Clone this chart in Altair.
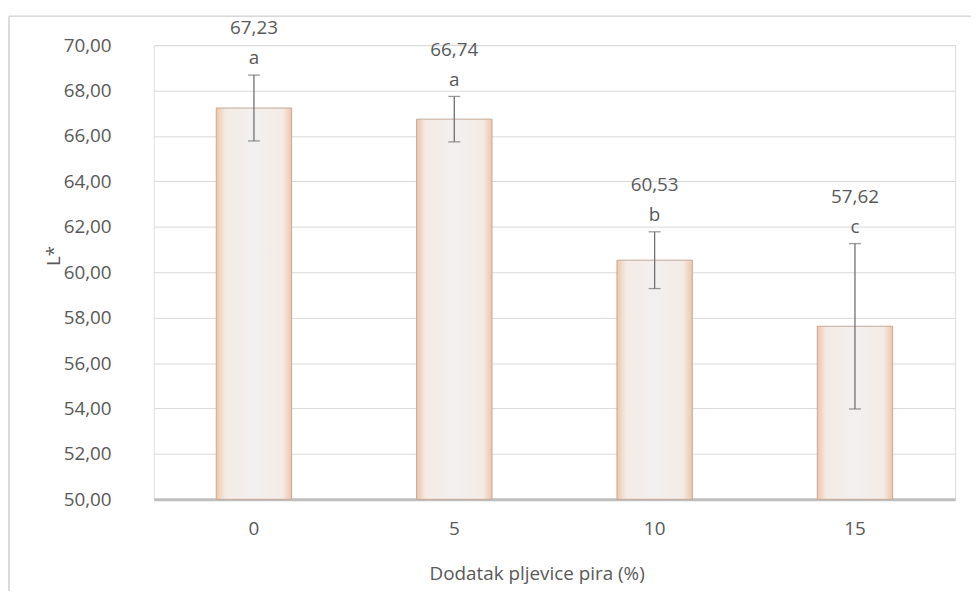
import altair as alt
import pandas as pd

categories = ["0", "5", "10", "15"]
means = [67.23, 66.74, 60.53, 57.62]
sd = [1.45, 1.00, 1.25, 3.64]
letters = ["a", "a", "b", "c"]
y_ticks = [50, 52, 54, 56, 58, 60, 62, 64, 66, 68, 70]

df = pd.DataFrame({
    "cat": categories,
    "mean": means,
    "lo": [m - s for m, s in zip(means, sd)],
    "hi": [m + s for m, s in zip(means, sd)],
    "letter": letters,
    "label": [f"{m:.2f}".replace(".", ",") for m in means],
})

FONT = "Open Sans"
TXT = "#595959"
FS = 19

x = alt.X("cat:N", sort=categories, title="Dodatak pljevice pira (%)",
          scale=alt.Scale(paddingInner=0.624, paddingOuter=0.312),
          axis=alt.Axis(labelAngle=0, ticks=False, domain=True, domainColor="#bfbfbf",
                        domainWidth=3, labelPadding=20,
                        titleX=386, titleY=81, titleBaseline="alphabetic", titleAlign="center",
                        labelFontSize=FS, titleFontSize=FS, labelColor=TXT, titleColor=TXT,
                        labelFont=FONT, titleFont=FONT, titleFontWeight="normal"))

y_scale = alt.Scale(domain=[50, 70], nice=False, zero=False)

frame = alt.Chart(df).mark_rect(fill=None, stroke="#d9d9d9", strokeWidth=1).encode(
    x=alt.value(-146), x2=alt.value(1000), y=alt.value(-29), y2=alt.value(800))

bars = alt.Chart(df).mark_bar(
    stroke="#c4a896", strokeWidth=1,
    color=alt.Gradient(gradient="linear", x1=0, x2=1, y1=0, y2=0,
                       stops=[alt.GradientStop(color="#efc6a8", offset=0),
                              alt.GradientStop(color="#f4ebe5", offset=0.12),
                              alt.GradientStop(color="#f2f0ef", offset=0.5),
                              alt.GradientStop(color="#f4ebe5", offset=0.88),
                              alt.GradientStop(color="#efc6a8", offset=1)]),
).encode(
    x=x,
    y=alt.Y("mean:Q", scale=y_scale, title="L*",
            axis=alt.Axis(values=y_ticks, labelExpr="replace(format(datum.value, '.2f'), '.', ',')",
                          grid=True, gridColor="#d9d9d9", gridWidth=1, domain=False, ticks=False,
                          labelPadding=43, titleX=-95, titleY=212, titleAngle=270,
                          titleBaseline="alphabetic", titleAlign="center",
                          labelFontSize=FS, titleFontSize=FS,
                          labelColor=TXT, titleColor=TXT, labelFont=FONT, titleFont=FONT,
                          titleFontWeight="normal")),
    y2=alt.datum(50),
)

rules = alt.Chart(df).mark_rule(color="#6f6f6f", strokeWidth=1.3).encode(
    x=alt.X("cat:N", sort=categories), y=alt.Y("lo:Q", scale=y_scale), y2="hi:Q")
caps_hi = alt.Chart(df).mark_tick(color="#6f6f6f", size=12, thickness=1.3, orient="horizontal").encode(
    x=alt.X("cat:N", sort=categories), y=alt.Y("hi:Q", scale=y_scale))
caps_lo = alt.Chart(df).mark_tick(color="#6f6f6f", size=12, thickness=1.3, orient="horizontal").encode(
    x=alt.X("cat:N", sort=categories), y=alt.Y("lo:Q", scale=y_scale))

letter_txt = alt.Chart(df).mark_text(dy=-17, fontSize=FS, font=FONT, color=TXT, baseline="middle").encode(
    x=alt.X("cat:N", sort=categories), y=alt.Y("hi:Q", scale=y_scale), text="letter:N")
value_txt = alt.Chart(df).mark_text(dy=-47, fontSize=FS, font=FONT, color=TXT, baseline="middle").encode(
    x=alt.X("cat:N", sort=categories), y=alt.Y("hi:Q", scale=y_scale), text="label:N")

chart = alt.layer(frame, bars, rules, caps_hi, caps_lo, letter_txt, value_txt).properties(
    width=808, height=458,
    autosize=alt.AutoSizeParams(type="none"),
    padding={"left": 147, "top": 35, "right": 16, "bottom": 90},
).configure_view(stroke=None).configure(background="white")

chart.save("out.html", embed_options={"renderer": "svg", "actions": False})
